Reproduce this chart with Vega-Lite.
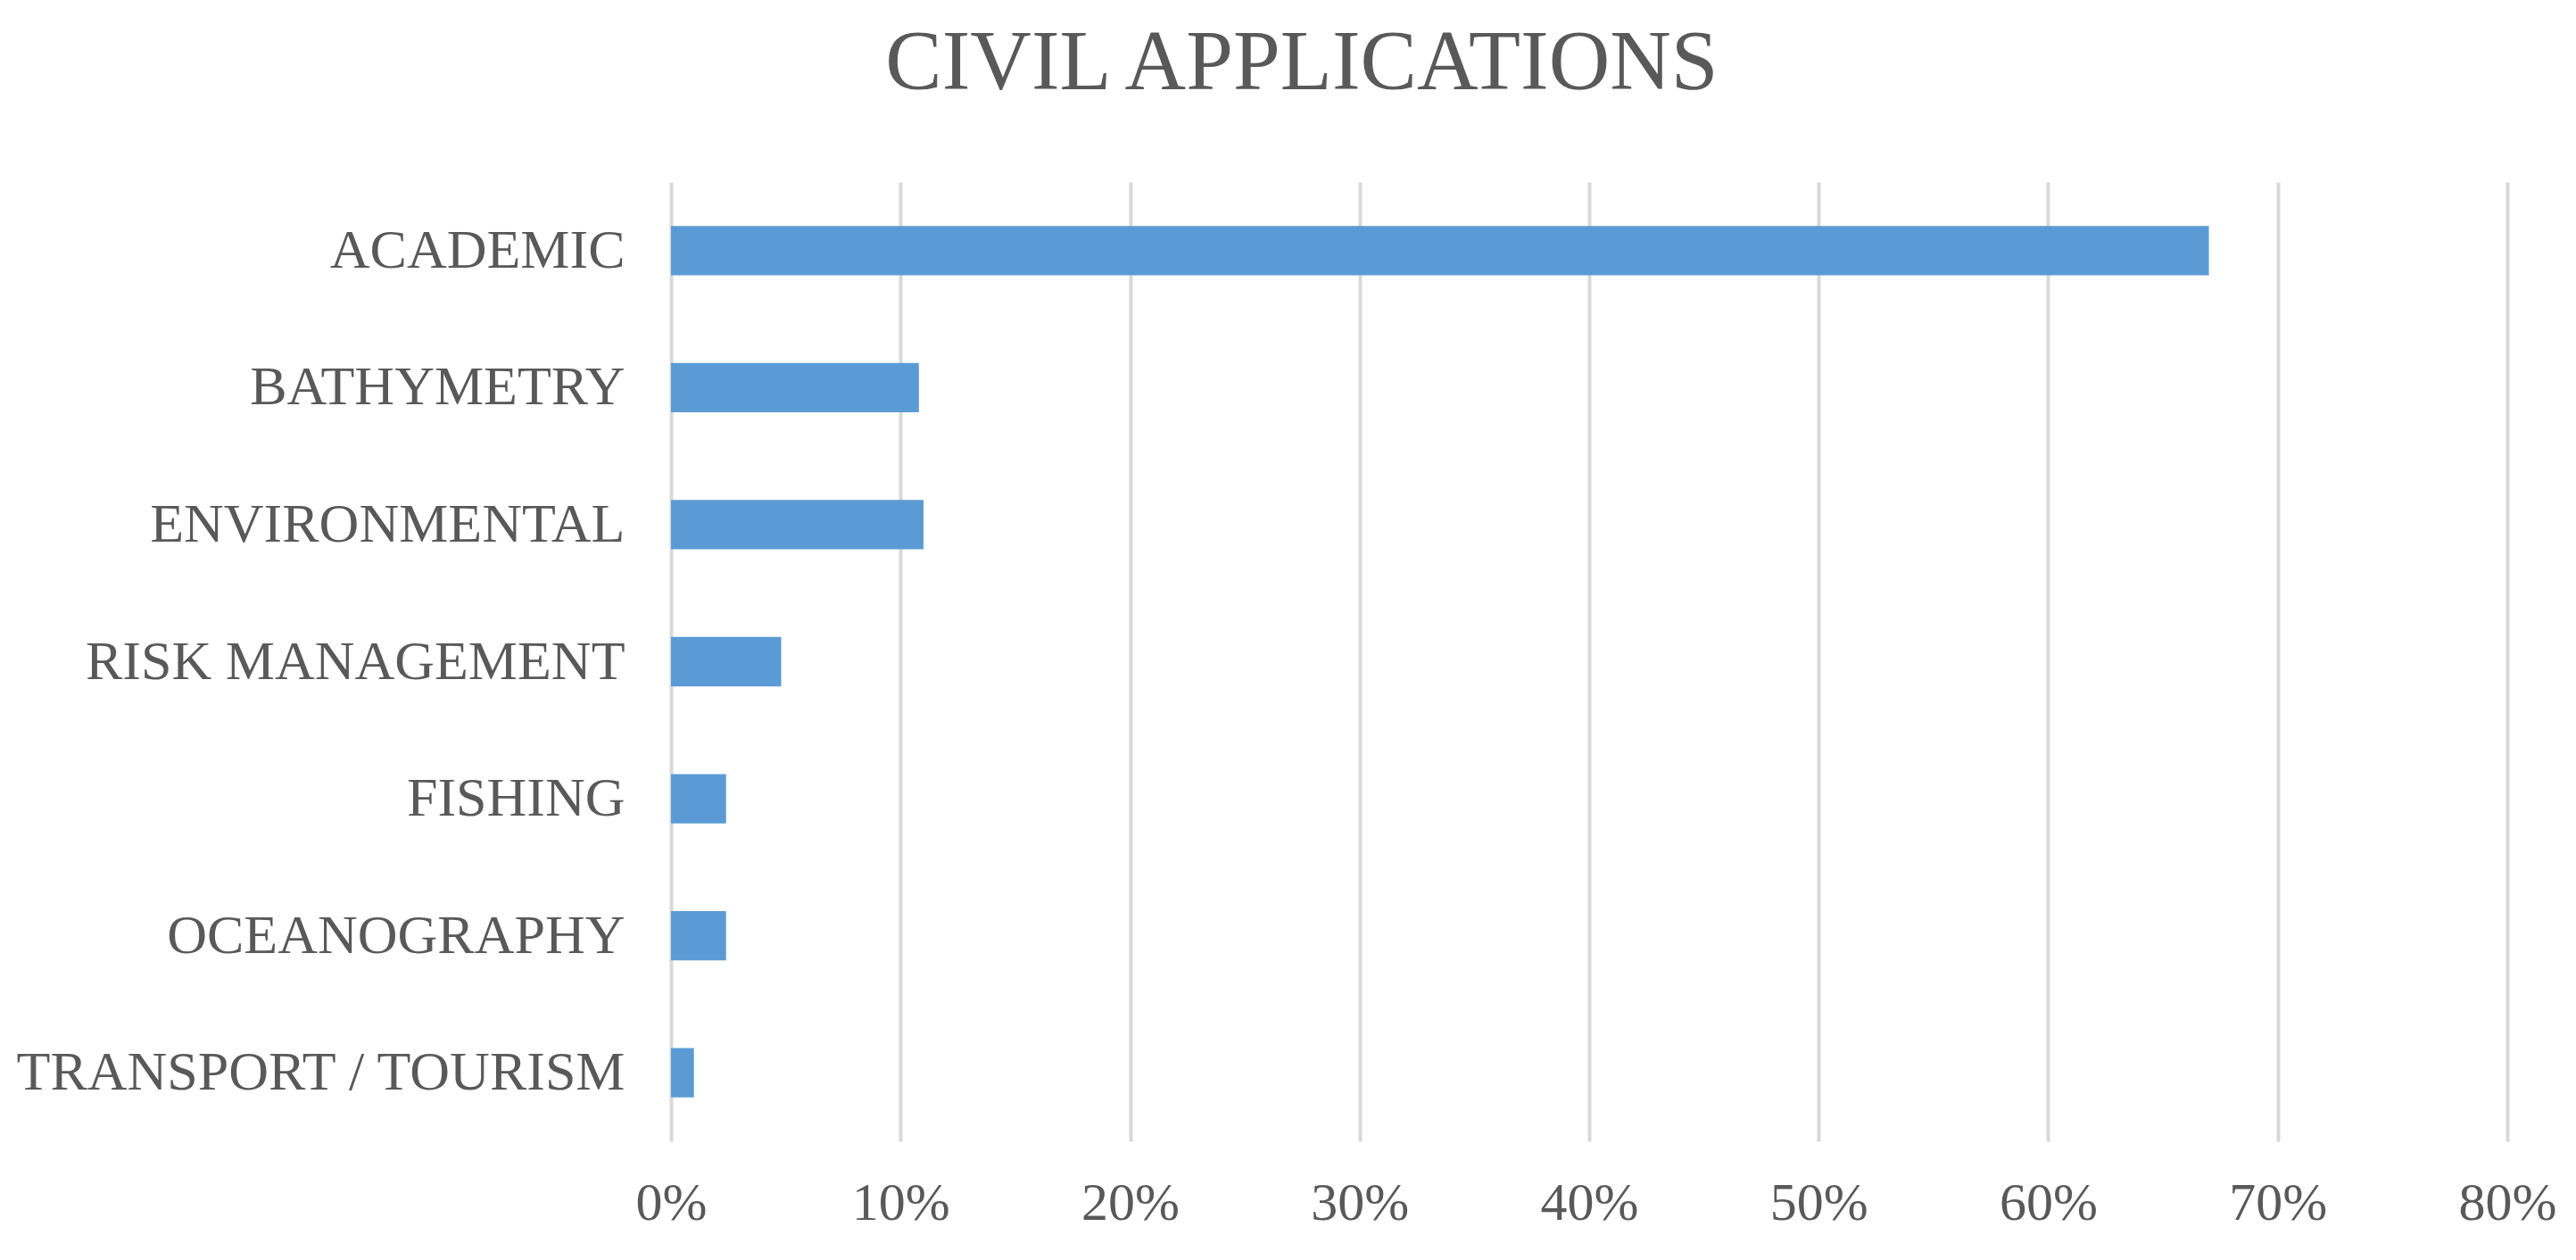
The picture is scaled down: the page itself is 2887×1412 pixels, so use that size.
{
  "$schema": "https://vega.github.io/schema/vega-lite/v6.json",
  "width": 2058,
  "height": 1075,
  "autosize": {"type": "none"},
  "padding": {"left": 752, "top": 204, "right": 77, "bottom": 133},
  "background": "white",
  "title": {
    "text": "CIVIL APPLICATIONS",
    "font": "Liberation Serif",
    "fontSize": 95,
    "fontWeight": "normal",
    "color": "#595959",
    "anchor": "middle",
    "dx": -322,
    "offset": 84
  },
  "data": {
    "values": [
      {"category": "ACADEMIC", "share": 0.670},
      {"category": "BATHYMETRY", "share": 0.108},
      {"category": "ENVIRONMENTAL", "share": 0.110},
      {"category": "RISK MANAGEMENT", "share": 0.048},
      {"category": "FISHING", "share": 0.024},
      {"category": "OCEANOGRAPHY", "share": 0.024},
      {"category": "TRANSPORT / TOURISM", "share": 0.010}
    ]
  },
  "mark": {"type": "bar", "color": "#5b9bd5"},
  "encoding": {
    "y": {
      "field": "category",
      "type": "nominal",
      "sort": null,
      "scale": {"paddingInner": 0.64, "paddingOuter": 0.32},
      "axis": {
        "title": null,
        "domain": false,
        "ticks": false,
        "labelFont": "Liberation Serif",
        "labelFontSize": 62,
        "labelColor": "#595959",
        "labelPadding": 52,
        "labelLimit": 0
      }
    },
    "x": {
      "field": "share",
      "type": "quantitative",
      "scale": {"domain": [0, 0.8], "nice": false},
      "axis": {
        "title": null,
        "format": ".0%",
        "values": [0, 0.1, 0.2, 0.3, 0.4, 0.5, 0.6, 0.7, 0.8],
        "domain": false,
        "ticks": false,
        "grid": true,
        "gridColor": "#d9d9d9",
        "gridWidth": 4,
        "labelFont": "Liberation Serif",
        "labelFontSize": 60,
        "labelColor": "#595959",
        "labelPadding": 40,
        "labelFlush": false
      }
    }
  },
  "config": {"view": {"stroke": null}}
}
